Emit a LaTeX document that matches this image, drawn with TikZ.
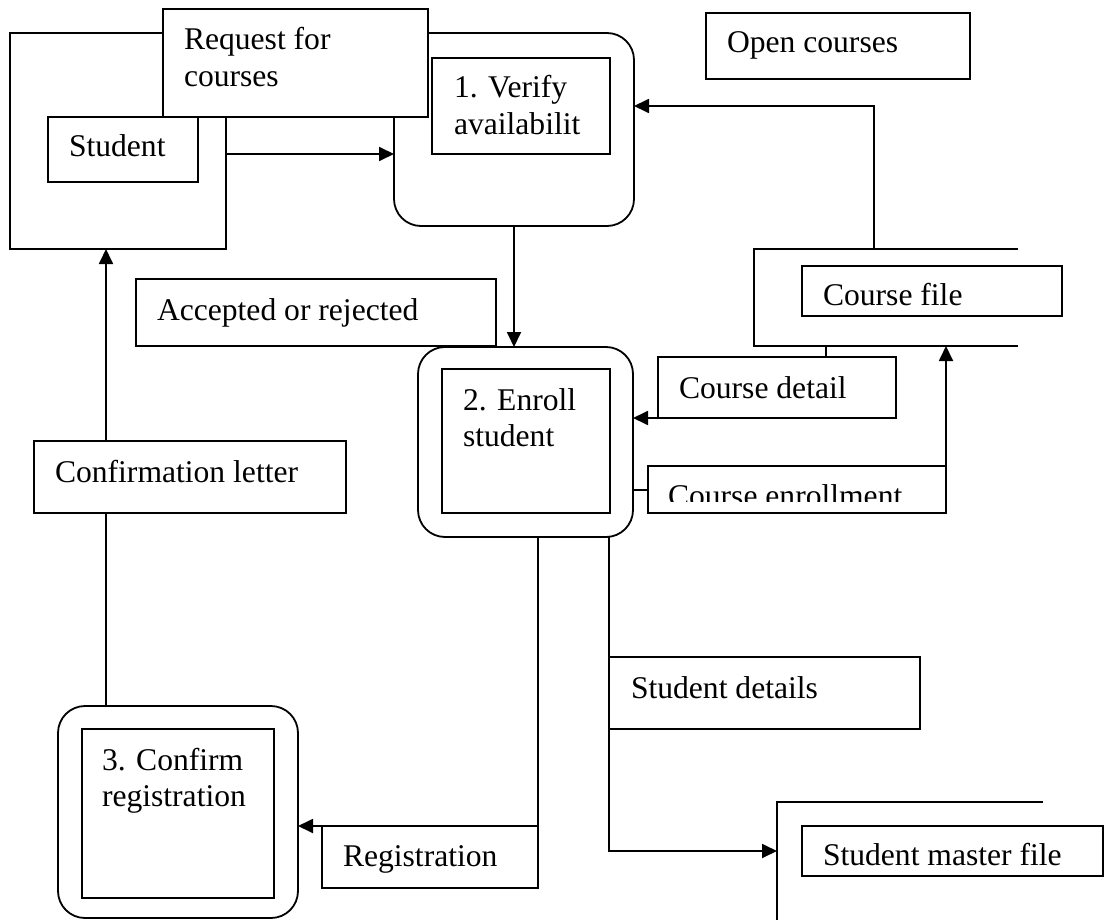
\documentclass[tikz,border=0pt]{standalone}
\usepackage{fontspec}
\setmainfont{Liberation Serif}
\usetikzlibrary{arrows.meta}
\pgfdeclarelayer{bg}
\pgfsetlayers{bg,main}
\begin{document}
\begin{tikzpicture}[x=1pt,y=-1pt,
  line width=1.8pt,
  box/.style={draw, line width=1.8pt, fill=white, rectangle, inner sep=0pt, outer sep=0pt, anchor=north west},
  proc/.style={box, rounded corners=27pt},
  store/.style={rectangle, inner sep=0pt, outer sep=0pt, anchor=north west},
  lbl/.style={inner sep=0pt, outer sep=0pt, anchor=base west, font=\fontsize{31.6}{36.3}\selectfont},
  flow/.style={line width=1.8pt, -{Triangle[length=15pt,width=14pt]}}
]
\useasboundingbox (0,0) rectangle (1105,920);

% external entity: Student
\node[box, minimum width=216pt, minimum height=216pt] (so) at (10,33) {};
% process 1
\node[proc, minimum width=240pt, minimum height=193pt] (p1) at (394,33) {};
\node[box, minimum width=178pt, minimum height=96pt] (v1) at (432,58) {};
\node[lbl] (v1a) at ([shift={(22,40)}]v1.north west) {1. Verify};
\node[lbl] (v1b) at ([shift={(22,76.3)}]v1.north west) {availabilit};

% flow label: request
\node[box, minimum width=265pt, minimum height=108pt] (req) at (163,9) {};
\node[lbl] (reqa) at ([shift={(21,41)}]req.north west) {Request for};
\node[lbl] (reqb) at ([shift={(21,77.3)}]req.north west) {courses};

\node[box, minimum width=150pt, minimum height=65pt] (si) at (48,117) {};
\node[lbl] (sit) at ([shift={(21,40)}]si.north west) {Student};

\node[box, minimum width=264pt, minimum height=66pt] (oc) at (706,13) {};
\node[lbl] (oct) at ([shift={(21,40)}]oc.north west) {Open courses};

% data store: Course file
\node[store, minimum width=264pt, minimum height=97pt] (cfs) at (754,249) {};
\draw[line width=1.8pt] (cfs.north east) -- (cfs.north west) -- (cfs.south west) -- (cfs.south east);
\node[box, minimum width=260pt, minimum height=50pt] (cfi) at (802,266) {};
\node[lbl] (cft) at ([shift={(21,39)}]cfi.north west) {Course file};

\node[box, minimum width=360pt, minimum height=67pt] (acc) at (136,279) {};
\node[lbl] (acct) at ([shift={(21,41)}]acc.north west) {Accepted or rejected};

% process 2
\node[proc, minimum width=215pt, minimum height=190pt] (p2) at (418,347) {};
\node[box, minimum width=168pt, minimum height=144pt] (e2) at (442,369) {};
\node[lbl] (e2a) at ([shift={(21,41)}]e2.north west) {2. Enroll};
\node[lbl] (e2b) at ([shift={(21,77.3)}]e2.north west) {student};

\node[box, minimum width=238pt, minimum height=61pt] (cd) at (658,357) {};
\node[lbl] (cdt) at ([shift={(21,41)}]cd.north west) {Course detail};

\node[box, minimum width=298pt, minimum height=47pt] (ce) at (648,466) {};
\begin{scope}
  \clip (ce.north west) rectangle ([yshift=12pt]ce.south east);
  \node[lbl] (cet) at ([shift={(20,40)}]ce.north west) {Course enrollment};
\end{scope}

\node[box, minimum width=312pt, minimum height=72pt] (cl) at (34,441) {};
\node[lbl] (clt) at ([shift={(21,41)}]cl.north west) {Confirmation letter};

% process 3
\node[proc, minimum width=240pt, minimum height=212pt] (p3) at (58,706) {};
\node[box, minimum width=192pt, minimum height=169pt] (c3) at (82,729) {};
\node[lbl] (c3a) at ([shift={(20,41)}]c3.north west) {3. Confirm};
\node[lbl] (c3b) at ([shift={(20,77.3)}]c3.north west) {registration};

\node[box, minimum width=216pt, minimum height=62pt] (reg) at (322,826) {};
\node[lbl] (regt) at ([shift={(21,40)}]reg.north west) {Registration};

\node[box, minimum width=311pt, minimum height=72pt] (sd) at (609,657) {};
\node[lbl] (sdt) at ([shift={(22,41)}]sd.north west) {Student details};

% data store: Student master file
\node[store, minimum width=266pt, minimum height=125pt] (sms) at (777,802) {};
\draw[line width=1.8pt] (sms.north east) -- (sms.north west) -- (sms.south west);
\node[box, minimum width=301pt, minimum height=50pt] (smi) at (802,826) {};
\node[lbl] (smt) at ([shift={(21,39)}]smi.north west) {Student master file};

% data flows
\coordinate (a0) at ([yshift=-13pt]so.east);
\coordinate (b0) at ([xshift=120pt]cfs.north west);
\coordinate (d0) at ([xshift=72pt]cfs.south west);
\coordinate (e0) at ([yshift=-48pt]p2.east);
\coordinate (f0) at ([xshift=48pt]p3.north west);
\coordinate (g0) at ([xshift=120pt]p2.south west);
\coordinate (h0) at ([xshift=191pt]p2.south west);
\begin{pgfonlayer}{bg}
  \draw[flow] (a0) -- (a0 -| p1.west);
  \draw[flow] (b0) |- ([yshift=23.5pt]p1.east);
  \draw[flow] (p1.south) -- (p1.south |- p2.north);
  \draw[flow] (d0) |- (p2.east |- cd.south);
  \draw[flow] (e0) -| (ce.east |- cfs.south);
  \draw[flow] (f0) -- (f0 |- so.south);
  \draw[flow] (g0) |- (p3.east |- reg.north);
  \draw[flow] (h0) |- (sms.west |- smi.west);
\end{pgfonlayer}
\end{tikzpicture}
\end{document}
